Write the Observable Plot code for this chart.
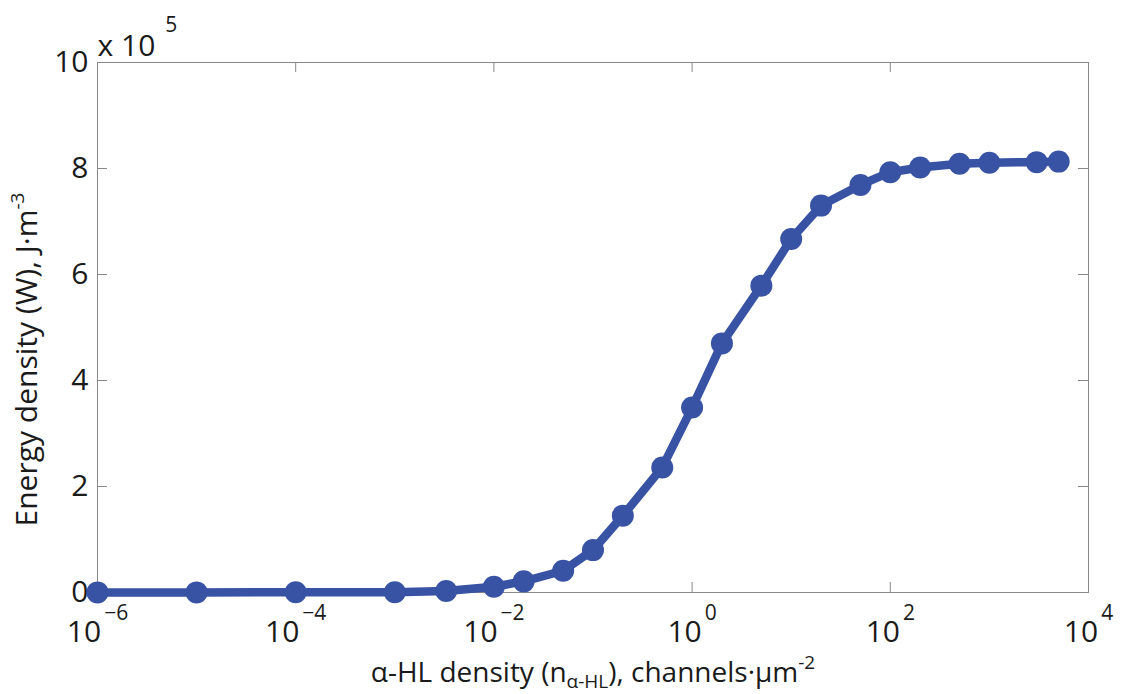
<!DOCTYPE html>
<html>
<head>
<meta charset="utf-8">
<script src="https://cdn.jsdelivr.net/npm/d3@7"></script>
<script src="https://cdn.jsdelivr.net/npm/@observablehq/plot@0.6"></script>
<style>
  html, body { margin: 0; padding: 0; background: #fff; }
  #chart svg { display: block; }
</style>
</head>
<body>
<div id="chart"></div>
<script>
// ---- data ----
const density = [1e-6, 1e-5, 1e-4, 1e-3, 3.3e-3, 1e-2, 2e-2, 5e-2, 0.1, 0.2, 0.5, 1, 2, 5, 10, 20, 50, 100, 200, 500, 1000, 3000, 5000];
const energyE5 = [0.002, 0.002, 0.003, 0.006, 0.03, 0.11, 0.21, 0.41, 0.80, 1.45, 2.36, 3.49, 4.70, 5.79, 6.67, 7.30, 7.69, 7.93, 8.02, 8.09, 8.11, 8.12, 8.13];
const xTicks = [1e-6, 1e-4, 1e-2, 1, 1e2, 1e4];
const yTicksE5 = [0, 2, 4, 6, 8, 10];
const xLabel = "α-HL density (n_{α-HL}), channels·µm^{-2}";
const yLabel = "Energy density (W), J·m^{-3}";
const multiplier = "x 10^{5}";

const rows = density.map((d, i) => ({density: d, energy: energyE5[i] * 1e5}));

const W = 1121, H = 694;
const mL = 97, mR = 33, mT = 62, mB = 102;
const plotW = W - mL - mR, plotH = H - mT - mB;
const tickLen = 10;
const gray = "#888";
const blue = "#3853a4";

const chart = Plot.plot({
  width: W,
  height: H,
  marginLeft: mL,
  marginRight: mR,
  marginTop: mT,
  marginBottom: mB,
  style: {fontFamily: "'Open Sans', sans-serif", fontSize: "30px", color: "#1a1a1a", background: "#fff", overflow: "visible"},
  x: {type: "log", domain: [1e-6, 1e4]},
  y: {domain: [0, 1e6]},
  marks: [
    Plot.frame({stroke: gray, strokeWidth: 1}),
    Plot.tickX(xTicks, {x: d => d, stroke: gray, insetTop: plotH - tickLen}),
    Plot.tickX(xTicks, {x: d => d, stroke: gray, insetBottom: plotH - tickLen}),
    Plot.tickY(yTicksE5, {y: d => d * 1e5, stroke: gray, insetRight: plotW - tickLen}),
    Plot.tickY(yTicksE5, {y: d => d * 1e5, stroke: gray, insetLeft: plotW - tickLen}),
    Plot.axisX({
      ticks: xTicks,
      tickSize: 0,
      tickPadding: 28,
      fontSize: 30,
      label: null,
      tickFormat: d => `10^{${String(Math.round(Math.log10(d))).replace("-", "−")}}`
    }),
    Plot.axisY({
      ticks: yTicksE5.map(v => v * 1e5),
      tickSize: 0,
      tickPadding: 9,
      fontSize: 30,
      label: null,
      tickFormat: d => String(Math.round(d / 1e5))
    }),
    Plot.line(rows, {x: "density", y: "energy", stroke: blue, strokeWidth: 8.5, strokeLinejoin: "round"}),
    Plot.dot(rows, {x: "density", y: "energy", r: 11, fill: blue, stroke: "none"}),
    Plot.text([multiplier], {text: d => d, frameAnchor: "top-left", textAnchor: "start", lineAnchor: "bottom", dy: -7, fontSize: 30}),
    Plot.text([xLabel], {text: d => d, frameAnchor: "bottom", textAnchor: "middle", lineAnchor: "bottom", dy: 89, fontSize: 28}),
    Plot.text([yLabel], {text: d => d, frameAnchor: "left", textAnchor: "middle", lineAnchor: "bottom", rotate: -90, dx: -61, dy: 32, fontSize: 30})
  ]
});

// Turn ^{..} and _{..} markup into real superscript / subscript tspans
const NS = "http://www.w3.org/2000/svg";
function rich(el, p) {
  const src = el.textContent;
  const re = /(\^|_)\{([^}]*)\}/g;
  let last = 0, m, shift = 0;
  const parts = [];
  while ((m = re.exec(src))) {
    if (m.index > last) parts.push({t: src.slice(last, m.index)});
    parts.push({t: m[2], kind: m[1]});
    last = re.lastIndex;
  }
  if (last < src.length) parts.push({t: src.slice(last)});
  el.textContent = "";
  for (const part of parts) {
    const ts = document.createElementNS(NS, "tspan");
    ts.textContent = part.t;
    if (part.kind === "^") {
      ts.setAttribute("font-size", p.supSize);
      ts.setAttribute("dy", p.supDy - shift);
      if (p.supDx) ts.setAttribute("dx", p.supDx);
      shift = p.supDy;
    } else if (part.kind === "_") {
      ts.setAttribute("font-size", p.subSize);
      ts.setAttribute("dy", p.subDy - shift);
      shift = p.subDy;
    } else if (shift) {
      ts.setAttribute("dy", -shift);
      shift = 0;
    }
    el.appendChild(ts);
  }
}
for (const el of chart.querySelectorAll("text")) {
  const s = el.textContent;
  if (s.startsWith("10^")) rich(el, {supSize: 21, supDy: -22, supDx: 3});
  else if (s.startsWith("x 10^")) rich(el, {supSize: 21, supDy: -24, supDx: 10});
  else if (s.includes("density (n")) rich(el, {supSize: 19, supDy: -13, subSize: 19, subDy: 6});
  else if (s.startsWith("Energy")) rich(el, {supSize: 19, supDy: -13});
}

document.getElementById("chart").appendChild(chart);
</script>
</body>
</html>
